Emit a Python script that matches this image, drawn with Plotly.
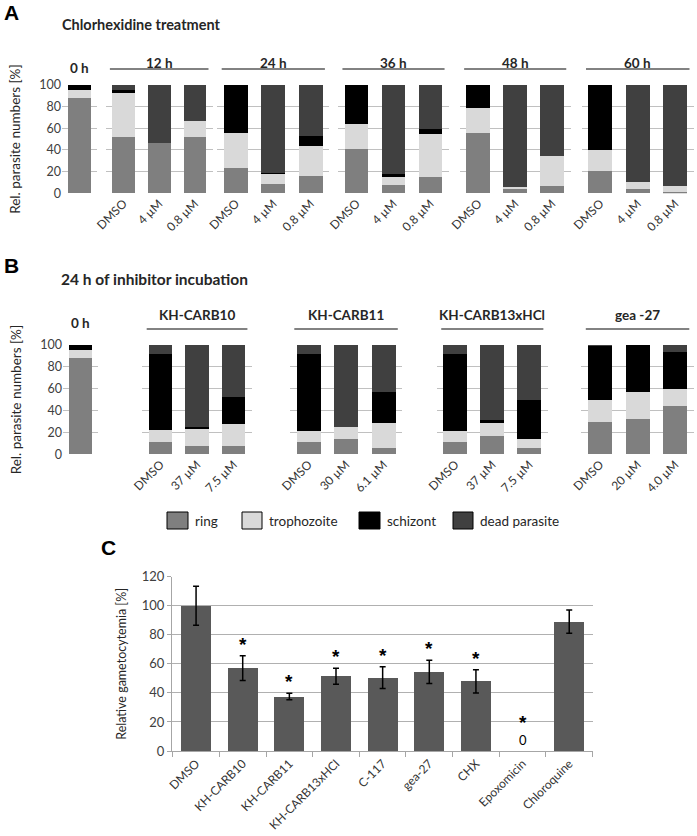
import plotly.graph_objects as go

# ---------------- data ----------------
stages = ["ring", "trophozoite", "schizont", "dead parasite"]
stage_colors = ["#7f7f7f", "#d9d9d9", "#000000", "#404040"]

# Panel A: Chlorhexidine treatment
a_groups = ["0 h", "12 h", "24 h", "36 h", "48 h", "60 h"]
a_conditions = [["0 h"], ["DMSO", "4 µM", "0.8 µM"], ["DMSO", "4 µM", "0.8 µM"],
                ["DMSO", "4 µM", "0.8 µM"], ["DMSO", "4 µM", "0.8 µM"], ["DMSO", "4 µM", "0.8 µM"]]
a_ring = [[88], [52, 46, 52], [23, 9, 16], [41, 8, 15], [56, 4, 7], [21, 4, 1.5]]
a_troph = [[7], [41, 0, 15], [33, 9, 28], [23, 7, 40], [23, 2, 27], [19, 6, 5.5]]
a_schiz = [[5], [2, 0, 0], [44, 1, 9], [36, 3, 4], [21, 0, 0], [60, 0, 0]]
a_dead = [[0], [5, 54, 33], [0, 81, 47], [0, 82, 41], [0, 94, 66], [0, 90, 93]]

# Panel B: 24 h of inhibitor incubation
b_groups = ["0 h", "KH-CARB10", "KH-CARB11", "KH-CARB13xHCl", "gea -27"]
b_conditions = [["0 h"], ["DMSO", "37 µM", "7.5 µM"], ["DMSO", "30 µM", "6.1 µM"],
                ["DMSO", "37 µM", "7.5 µM"], ["DMSO", "20 µM", "4.0 µM"]]
b_ring = [[88.5], [11, 8, 8], [11, 14, 6], [11, 17, 6], [30, 32, 44.5]]
b_troph = [[6.5], [11, 16, 20], [10, 11, 23], [10, 12, 8], [20, 25, 15.5]]
b_schiz = [[5], [70, 1, 24], [71, 0, 28], [71, 2, 36], [49.5, 43, 34]]
b_dead = [[0], [8, 75, 48], [8, 75, 43], [8, 69, 50], [0.5, 0, 6]]

# Panel C: relative gametocytemia
c_cats = ["DMSO", "KH-CARB10", "KH-CARB11", "KH-CARB13xHCl", "C-117",
          "gea-27", "CHX", "Epoxomicin", "Chloroquine"]
c_vals = [100, 57, 37.5, 51.5, 50.5, 54.5, 48, 0, 89]
c_err = [13.5, 8.5, 2.3, 5.5, 7.5, 8, 8, None, 8]
c_sig = [False, True, True, True, True, True, True, True, False]
c_yticks = [0, 20, 40, 60, 80, 100, 120]

# ---------------- layout helpers ----------------
W, H = 697, 836
FONT = "Lato, 'Open Sans', sans-serif"
TXT = "#262626"
def fx(v):
    return v / W
def fy(v):
    return 1 - v / H

A_y = [fy(193.3), fy(85)]
B_y = [fy(454.3), fy(345)]
C_y = [fy(751), fy(576.7)]
A_x = [[62, 97], [105.6, 212.8], [217.2, 329.4], [338, 449], [459.7, 570.7], [581.5, 694]]
B_x = [[63, 98], [142.3, 251.8], [289.8, 402.3], [436.8, 547.8], [581.3, 693.8]]
C_x = [172, 593.3]

fig = go.Figure()
layout = dict(
    width=W, height=H, margin=dict(l=0, r=0, t=0, b=0, pad=0, autoexpand=False),
    paper_bgcolor="white", plot_bgcolor="white",
    barmode="stack", bargap=0.36, showlegend=False,
    font=dict(family=FONT, size=12, color=TXT),
)
annotations = []
shapes = []

def add_panel(start_idx, groups, conds, series, xdoms, ydom, ytitle,
              head_y, zero_y, line_y):
    idx = start_idx
    for g, (grp, cond) in enumerate(zip(groups, conds)):
        xa = "x" if idx == 1 else f"x{idx}"
        ya = "y" if idx == 1 else f"y{idx}"
        for s, name in enumerate(stages):
            fig.add_trace(go.Bar(
                x=cond, y=series[s][g], name=name, marker_color=stage_colors[s],
                marker_line_width=0, xaxis=xa, yaxis=ya, showlegend=False,
                hovertemplate=name + ": %{y}%<extra></extra>"))
        first = g == 0
        layout["xaxis" if idx == 1 else f"xaxis{idx}"] = dict(
            domain=[fx(xdoms[g][0]), fx(xdoms[g][1])], anchor=ya, type="category",
            tickangle=-45, showticklabels=not first, showgrid=False, zeroline=False,
            showline=False, ticks="", automargin=False,
            tickfont=dict(size=12, color="#333333"))
        layout["yaxis" if idx == 1 else f"yaxis{idx}"] = dict(
            domain=ydom, anchor=xa, range=[0, 100], dtick=20, showgrid=True,
            gridcolor="#c0c0c0", gridwidth=1, zeroline=False, showline=False,
            showticklabels=first, ticks="", automargin=False,
            tickfont=dict(size=12.5, color="#404040"),
            title=dict(text=ytitle, font=dict(size=13.5, color=TXT), standoff=15) if first else None)
        cx = (xdoms[g][0] + xdoms[g][1]) / 2
        annotations.append(dict(
            text="<b>%s</b>" % grp, x=fx(cx), y=fy(zero_y if first else head_y),
            xref="paper", yref="paper", showarrow=False, xanchor="center",
            yanchor="middle", font=dict(size=13.5, color=TXT)))
        if not first:
            shapes.append(dict(type="line", xref=xa, yref="paper",
                               x0=-0.38, x1=len(cond) - 1 + 0.38,
                               y0=fy(line_y), y1=fy(line_y),
                               line=dict(color="#595959", width=1.5)))
        idx += 1
    return idx

nxt = add_panel(1, a_groups, a_conditions, [a_ring, a_troph, a_schiz, a_dead],
                A_x, A_y, "Rel. parasite numbers [%]", 63, 68, 69)
nxt = add_panel(nxt, b_groups, b_conditions, [b_ring, b_troph, b_schiz, b_dead],
                B_x, B_y, "Rel. parasite numbers [%]", 315, 323, 329)

# Panel C
ci = nxt
xa, ya = f"x{ci}", f"y{ci}"
fig.add_trace(go.Bar(
    x=c_cats, y=c_vals, marker_color="#595959", marker_line_width=0,
    xaxis=xa, yaxis=ya, showlegend=False,
    hovertemplate="%{x}: %{y}%<extra></extra>"))
err_x = [c for c, e in zip(c_cats, c_err) if e is not None]
err_y = [v for v, e in zip(c_vals, c_err) if e is not None]
err_v = [e for e in c_err if e is not None]
fig.add_trace(go.Scatter(
    x=err_x, y=err_y, mode="markers", marker=dict(size=1, opacity=0),
    xaxis=xa, yaxis=ya, showlegend=False, hoverinfo="skip",
    error_y=dict(type="data", array=err_v, visible=True, color="#000000",
                 thickness=1.5, width=3)))
layout[f"xaxis{ci}"] = dict(
    domain=[fx(C_x[0]), fx(C_x[1])], anchor=ya, type="category", tickangle=-45,
    categoryorder="array", categoryarray=c_cats,
    showgrid=False, zeroline=False, showline=True, linecolor="#a6a6a6", linewidth=1,
    ticks="outside", tickson="boundaries", ticklen=5, tickcolor="#a6a6a6",
    automargin=False, tickfont=dict(size=12, color="#333333"))
layout[f"yaxis{ci}"] = dict(
    domain=C_y, anchor=xa, range=[0, 120], tickvals=c_yticks, showgrid=True,
    gridcolor="#b0b0b0", zeroline=False, showline=True, linecolor="#a6a6a6",
    ticks="outside", ticklen=4, tickcolor="#a6a6a6", automargin=False,
    tickfont=dict(size=13, color="#404040"),
    title=dict(text="Relative gametocytemia [%]", font=dict(size=12.5, color=TXT), standoff=12))

STAR_FONT = "Liberation Sans, DejaVu Sans, sans-serif"
for cat, v, e, sig in zip(c_cats, c_vals, c_err, c_sig):
    top = v + (e or 0)
    if sig:
        annotations.append(dict(text="<b>*</b>", x=cat, y=top, xref=xa, yref=ya, showarrow=False,
                                xanchor="center", yanchor="bottom",
                                yshift=16 if v == 0 else -1,
                                font=dict(size=19, color="#000000", family=STAR_FONT)))
    if v == 0:
        annotations.append(dict(text=str(v), x=cat, y=v, xref=xa, yref=ya, showarrow=False,
                                xanchor="center", yanchor="bottom", yshift=1,
                                font=dict(size=13, color="#000000")))

# Legend (manual)
leg_sq = [[167, 188], [242, 262], [359, 380], [453, 473]]
for (x0, x1), name, col in zip(leg_sq, stages, stage_colors):
    shapes.append(dict(type="rect", xref="paper", yref="paper",
                       x0=fx(x0), x1=fx(x1), y0=fy(529), y1=fy(512),
                       fillcolor=col, line=dict(color="#000000", width=1)))
    annotations.append(dict(text=name, x=fx(x1 + 5), y=fy(520.5), xref="paper", yref="paper",
                            showarrow=False, xanchor="left", yanchor="middle",
                            font=dict(size=13.5, color=TXT)))

# Panel titles and letters
LET_FONT = "Liberation Sans, Arial, sans-serif"
annotations += [
    dict(text="<b>Chlorhexidine treatment</b>", x=fx(60), y=fy(25), xref="paper", yref="paper",
         showarrow=False, xanchor="left", yanchor="middle", font=dict(size=14.5, color=TXT)),
    dict(text="<b>24 h of inhibitor incubation</b>", x=fx(59), y=fy(279), xref="paper",
         yref="paper", showarrow=False, xanchor="left", yanchor="middle",
         font=dict(size=15.5, color=TXT)),
    dict(text="<b>A</b>", x=fx(2), y=fy(13), xref="paper", yref="paper", showarrow=False,
         xanchor="left", yanchor="middle", font=dict(size=21, color="#000000", family=LET_FONT)),
    dict(text="<b>B</b>", x=fx(2), y=fy(265), xref="paper", yref="paper", showarrow=False,
         xanchor="left", yanchor="middle", font=dict(size=21, color="#000000", family=LET_FONT)),
    dict(text="<b>C</b>", x=fx(99), y=fy(547), xref="paper", yref="paper", showarrow=False,
         xanchor="left", yanchor="middle", font=dict(size=21, color="#000000", family=LET_FONT)),
]

layout["annotations"] = annotations
layout["shapes"] = shapes
fig.update_layout(**layout)
fig.write_html("out.html", config={"displayModeBar": False},
               post_script="document.body.style.margin='0px';")
